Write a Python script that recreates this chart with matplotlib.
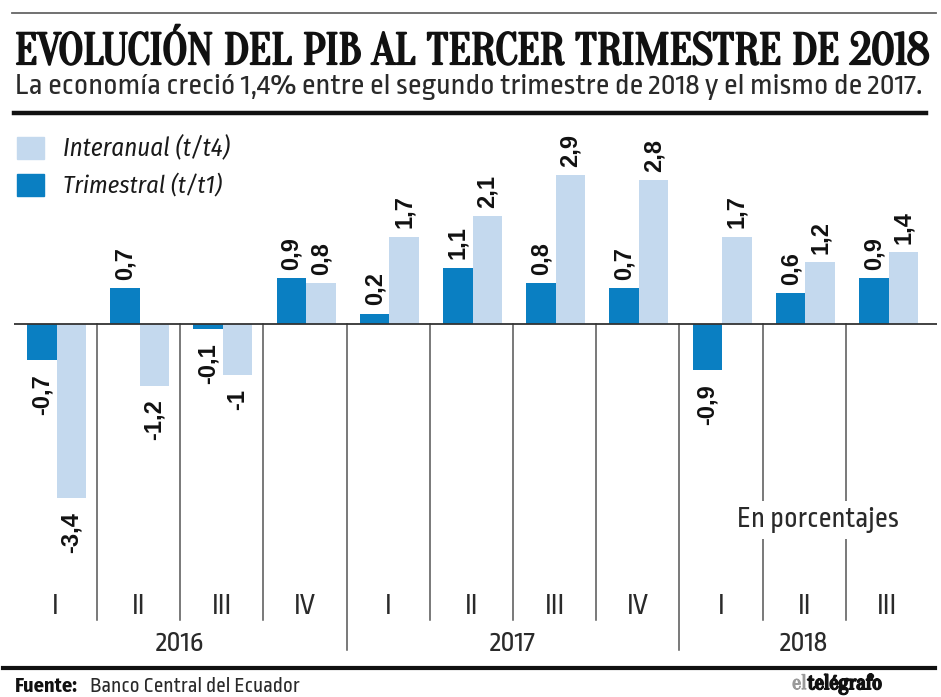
import matplotlib
matplotlib.use("Agg")
import matplotlib.pyplot as plt
import matplotlib.patheffects as pe
from matplotlib.lines import Line2D
from matplotlib.patches import Rectangle

# ---------------- data ----------------
quarters = ["I", "II", "III", "IV", "I", "II", "III", "IV", "I", "II", "III"]
years = ["2016", "2017", "2018"]
year_spans = [(0, 4), (4, 8), (8, 11)]
trimestral = [-0.7, 0.7, -0.1, 0.9, 0.2, 1.1, 0.8, 0.7, -0.9, 0.6, 0.9]
interanual = [-3.4, -1.2, -1.0, 0.8, 1.7, 2.1, 2.9, 2.8, 1.7, 1.2, 1.4]

title = "EVOLUCIÓN DEL PIB AL TERCER TRIMESTRE DE 2018"
subtitle = "La economía creció 1,4% entre el segundo trimestre de 2018 y el mismo de 2017."
legend_labels = ["Interanual (t/t4)", "Trimestral (t/t1)"]
note = "En porcentajes"
source_label = "Fuente:"
source = "Banco Central del Ecuador"

DARK = "#0a7fc2"
LIGHT = "#c4d9ee"

W, H = 941, 697
fig = plt.figure(figsize=(W / 100, H / 100), dpi=100)
fig.patch.set_facecolor("white")
renderer = fig.canvas.get_renderer()


def fx(x):
    return x / W


def fy(y):
    return 1 - y / H


def fit(t, width):
    bb = t.get_window_extent(renderer)
    t.set_fontsize(t.get_fontsize() * width / bb.width)
    return t


# ---------------- axes ----------------
ax_left, ax_right = 13.8, 937.0
ax_top, ax_bot = 120.0, 660.0
ax = fig.add_axes([fx(ax_left), fy(ax_bot), (ax_right - ax_left) / W, (ax_bot - ax_top) / H])
ax.set_xlim(0, 11.096)
ax.set_ylim(-6.55, 3.977)
ax.axis("off")

n = len(quarters)
bw = 0.355
xt = [i + 0.337 for i in range(n)]
xi = [i + 0.691 for i in range(n)]
ax.bar(xt, trimestral, width=bw, color=DARK, zorder=3)
ax.bar(xi, interanual, width=bw, color=LIGHT, zorder=3)

ax.axhline(0, color="#333333", lw=1.3, zorder=4)

# separators
for b in range(1, n):
    bottom = -6.355 if b in (4, 8) else -5.77
    ax.plot([b, b], [0, bottom], color="#555555", lw=1.1, zorder=1)


def fmt(v):
    s = f"{v:.1f}"
    if s.endswith(".0"):
        s = s[:-2]
    return s.replace(".", ",")


for xs, vals in ((xt, trimestral), (xi, interanual)):
    for x, v in zip(xs, vals):
        if v >= 0:
            ax.annotate(fmt(v), (x, v), xytext=(0, 6), textcoords="offset points",
                        rotation=90, ha="center", va="bottom", fontsize=17,
                        fontweight="bold", family="Liberation Sans", color="#111111", zorder=5)
        else:
            ax.annotate(fmt(v), (x, v), xytext=(0, -10), textcoords="offset points",
                        rotation=90, ha="center", va="top", fontsize=17,
                        fontweight="bold", family="Liberation Sans", color="#111111", zorder=5)

# quarter & year labels
for i, q in enumerate(quarters):
    ax.text(i + 0.5, -(614 - 324) / 51.3, q, ha="center", va="baseline",
            fontsize=21, family="Ropa Sans", color="#2a2a2a")
for y, (a, b) in zip(years, year_spans):
    ax.text((a + b) / 2, -(651 - 324) / 51.3, y, ha="center", va="baseline",
            fontsize=21, family="Ropa Sans", color="#2a2a2a")

t = ax.text(0, 0, note, ha="left", va="baseline", fontsize=19, family="Ropa Sans",
            color="#2a2a2a", zorder=6)
fit(t, 163)
t.set_position(((737 - ax_left) / 83.2, -(527 - 324) / 51.3))
t.set_bbox(dict(facecolor="white", edgecolor="none", pad=4))

# ---------------- header ----------------
fig.add_artist(Line2D([fx(12), fx(936)], [fy(13), fy(13)], color="#666666", lw=1.3))
tt = fig.text(fx(15), fy(64), title, ha="left", va="baseline", fontsize=30,
              family="Oranienbaum", color="#111111")
fit(tt, 915)
tt.set_path_effects([pe.withStroke(linewidth=1.6, foreground="#111111")])

st = fig.text(fx(15), fy(94), subtitle, ha="left", va="baseline", fontsize=18,
              family="Ropa Sans", color="#2a2a2a")
fit(st, 905)

fig.add_artist(Line2D([fx(14), fx(926)], [fy(113), fy(113)], color="#111111", lw=3.2))

# legend
for k, (lab, col, yc) in enumerate(zip(legend_labels, [LIGHT, DARK], [148, 185])):
    fig.add_artist(Rectangle((fx(17), fy(yc + 11)), 27 / W, 22 / H, color=col,
                             transform=fig.transFigure))
    lt = fig.text(fx(63), fy(yc), lab, ha="left", va="center", fontsize=15,
                  family="Fira Sans Condensed", style="italic", fontweight="normal",
                  color="#1a1a1a")
    fit(lt, 167 if k == 0 else 159)

# ---------------- footer ----------------
fig.add_artist(Line2D([fx(3), fx(935)], [fy(668), fy(668)], color="#111111", lw=3.0))
ft = fig.text(fx(15), fy(692), source_label, ha="left", va="baseline", fontsize=13,
              family="Fira Sans Condensed", fontweight="bold", color="#111111")
fit(ft, 63)
bt = fig.text(fx(90), fy(692), source, ha="left", va="baseline", fontsize=13,
              family="Ropa Sans", color="#2a2a2a")
fit(bt, 210)

el = fig.text(fx(792), fy(689), "el", ha="left", va="baseline", fontsize=15,
              family="Oranienbaum", color="#9a9a9a")
el.set_path_effects([pe.withStroke(linewidth=0.8, foreground="#9a9a9a")])
bb = el.get_window_extent(renderer)
tg = fig.text(bb.x1 / W + 0.001, fy(689), "telégrafo", ha="left", va="baseline", fontsize=15,
              family="Oranienbaum", color="#111111")
tg.set_path_effects([pe.withStroke(linewidth=1.4, foreground="#111111")])

fig.savefig("out.png", dpi=100, facecolor="white")
